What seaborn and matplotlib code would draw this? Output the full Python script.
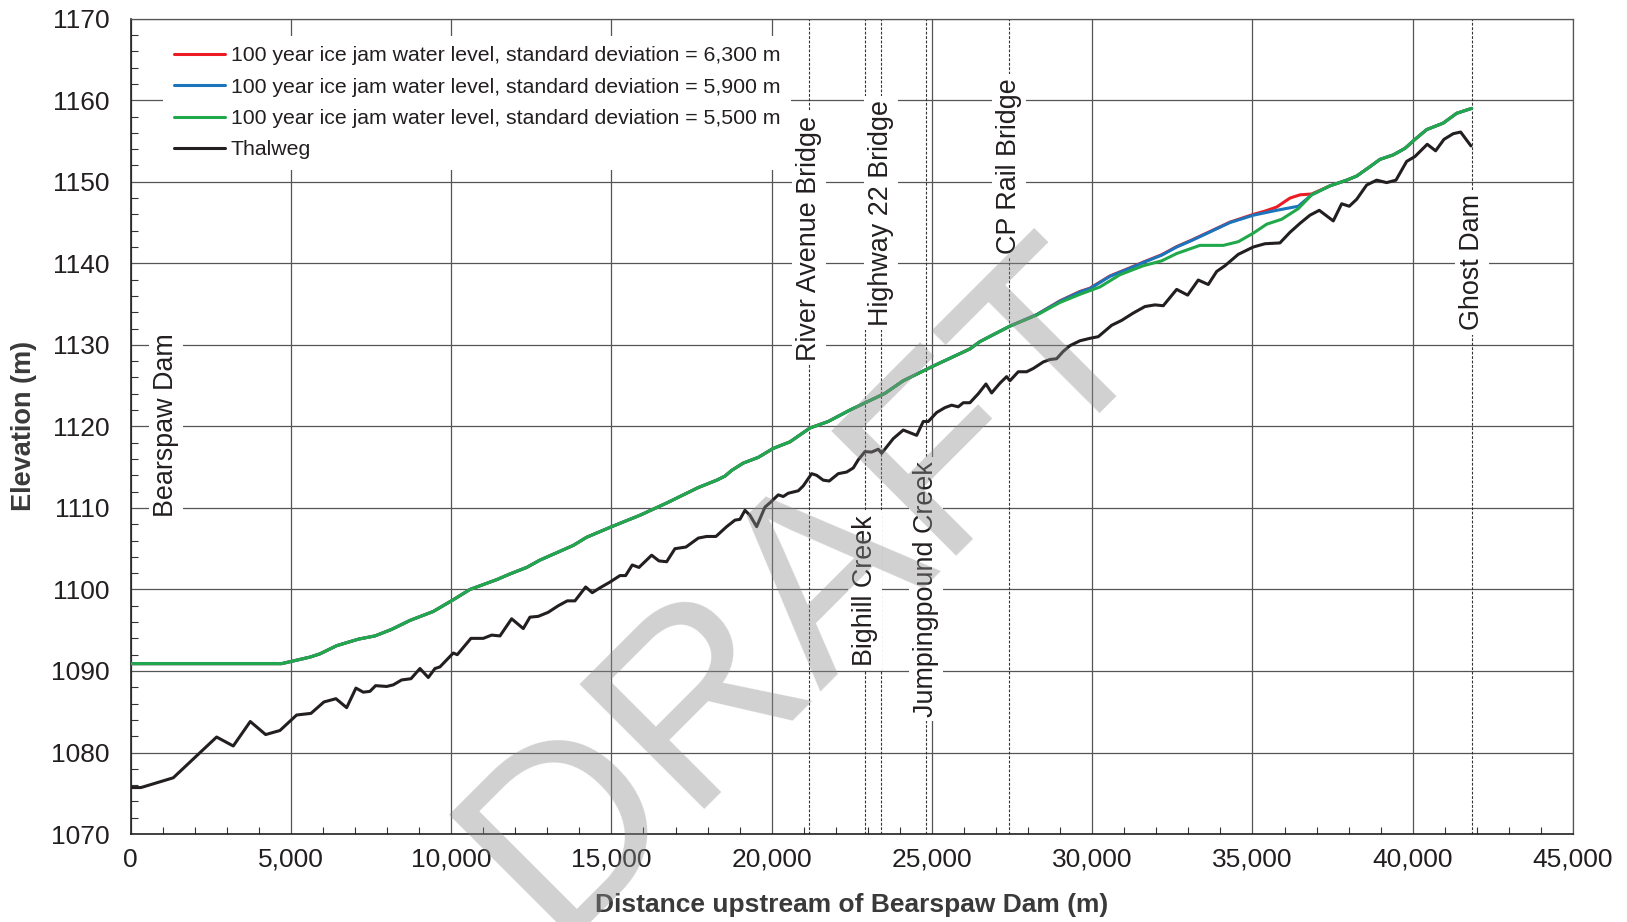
import matplotlib
matplotlib.use("Agg")
import matplotlib.pyplot as plt
import matplotlib.ticker as mticker
import seaborn as sns
import pandas as pd

# ---------------- data ----------------
thalweg_x = [0, 321, 1330, 2682, 3201, 3732, 4212, 4658, 5179, 5625, 6031, 6405, 6739, 7029, 7258,
             7466, 7643, 7987, 8195, 8455, 8746, 9026, 9286, 9494, 9650, 10066, 10190, 10617, 11002,
             11263, 11522, 11887, 12249, 12458, 12717, 13029, 13341, 13622, 13862, 14196, 14402,
             14642, 14954, 15266, 15443, 15650, 15859, 16255, 16483, 16723, 16982, 17325, 17710,
             17971, 18261, 18595, 18854, 19010, 19166, 19322, 19531, 19790, 19967, 20205, 20361,
             20517, 20829, 20985, 21247, 21403, 21609, 21796, 22077, 22339, 22545, 22701, 22909,
             23118, 23325, 23430, 23793, 24105, 24523, 24729, 24886, 25146, 25405, 25614, 25821,
             25977, 26185, 26445, 26685, 26862, 27121, 27330, 27434, 27693, 27955, 28161, 28473,
             28681, 28890, 29097, 29305, 29618, 29929, 30189, 30607, 30919, 31281, 31646, 31958,
             32217, 32635, 32978, 33309, 33621, 33883, 34141, 34557, 35026, 35389, 35857, 36170,
             36482, 36793, 37084, 37521, 37783, 38020, 38251, 38563, 38875, 39187, 39477, 39811,
             40070, 40453, 40714, 40974, 41264, 41495, 41817]
thalweg_y = [1075.7, 1075.7, 1076.9, 1081.9, 1080.8, 1083.8, 1082.2, 1082.7, 1084.6, 1084.8, 1086.2,
             1086.6, 1085.5, 1087.9, 1087.4, 1087.5, 1088.2, 1088.1, 1088.3, 1088.9, 1089.05, 1090.3,
             1089.2, 1090.3, 1090.5, 1092.2, 1092.0, 1094.0, 1094.0, 1094.4, 1094.3, 1096.4, 1095.2,
             1096.6, 1096.7, 1097.2, 1098.0, 1098.6, 1098.6, 1100.3, 1099.6, 1100.2, 1100.9, 1101.7,
             1101.7, 1103.0, 1102.7, 1104.2, 1103.5, 1103.4, 1105.0, 1105.2, 1106.3, 1106.5, 1106.5,
             1107.7, 1108.5, 1108.6, 1109.7, 1109.1, 1107.7, 1110.1, 1110.7, 1111.6, 1111.4, 1111.8,
             1112.1, 1112.7, 1114.2, 1114.0, 1113.4, 1113.3, 1114.2, 1114.4, 1114.9, 1115.9, 1116.9,
             1116.85, 1117.2, 1116.7, 1118.5, 1119.55, 1118.9, 1120.6, 1120.6, 1121.7, 1122.3, 1122.6,
             1122.4, 1122.9, 1122.9, 1124.0, 1125.2, 1124.1, 1125.3, 1126.1, 1125.6, 1126.7, 1126.7,
             1127.1, 1127.9, 1128.2, 1128.3, 1129.2, 1129.9, 1130.5, 1130.8, 1131.0, 1132.4, 1133.0,
             1133.9, 1134.7, 1134.9, 1134.8, 1136.8, 1136.1, 1137.95, 1137.4, 1139.0, 1139.7, 1141.1,
             1142.0, 1142.4, 1142.5, 1143.8, 1144.9, 1145.9, 1146.5, 1145.2, 1147.3, 1147.0, 1147.85,
             1149.6, 1150.2, 1149.9, 1150.2, 1152.5, 1153.1, 1154.6, 1153.8, 1155.2, 1155.9, 1156.1,
             1154.4]

green_x = [0, 4710, 5594, 5906, 6426, 7102, 7622, 8142, 8714, 9442, 10050, 10586, 11419, 11834,
           12355, 12770, 13809, 14227, 15007, 15890, 16723, 17710, 18283, 18542, 18751, 19114, 19582,
           20049, 20569, 21193, 21764, 22441, 23533, 24105, 25041, 26185, 26497, 27434, 28267, 28994,
           29618, 30241, 30865, 31592, 32167, 32635, 33361, 34089, 34557, 35026, 35444, 35910, 36428,
           36846, 37417, 37938, 38251, 38665, 38979, 39393, 39758, 40070, 40435, 40953, 41370, 41838]
green_y = [1090.9, 1090.9, 1091.7, 1092.1, 1093.1, 1093.9, 1094.3, 1095.1, 1096.2, 1097.3, 1098.7,
           1100.0, 1101.2, 1101.9, 1102.7, 1103.6, 1105.4, 1106.4, 1107.7, 1109.1, 1110.6, 1112.5,
           1113.4, 1113.9, 1114.6, 1115.5, 1116.2, 1117.3, 1118.1, 1119.8, 1120.6, 1122.0, 1124.05,
           1125.6, 1127.4, 1129.5, 1130.4, 1132.3, 1133.65, 1135.2, 1136.2, 1137.1, 1138.6, 1139.7,
           1140.3, 1141.2, 1142.2, 1142.2, 1142.65, 1143.7, 1144.8, 1145.4, 1146.7, 1148.4, 1149.5,
           1150.2, 1150.7, 1151.85, 1152.75, 1153.3, 1154.1, 1155.2, 1156.4, 1157.2, 1158.4, 1159.0]

blue_x = [0, 4710, 5594, 5906, 6426, 7102, 7622, 8142, 8714, 9442, 10050, 10586, 11419, 11834,
          12355, 12770, 13809, 14227, 15007, 15890, 16723, 17710, 18283, 18542, 18751, 19114, 19582,
          20049, 20569, 21193, 21764, 22441, 23533, 24105, 25041, 26185, 26497, 27434, 28267, 28994,
          29618, 29929, 30553, 31177, 31592, 32167, 32635, 33103, 33621, 34298, 35026, 35754, 36428,
          36846, 37417, 37938, 38251, 38665, 38979, 39393, 39758, 40070, 40435, 40953, 41370, 41838]
blue_y = [1090.9, 1090.9, 1091.7, 1092.1, 1093.1, 1093.9, 1094.3, 1095.1, 1096.2, 1097.3, 1098.7,
          1100.0, 1101.2, 1101.9, 1102.7, 1103.6, 1105.4, 1106.4, 1107.7, 1109.1, 1110.6, 1112.5,
          1113.4, 1113.9, 1114.6, 1115.5, 1116.2, 1117.3, 1118.1, 1119.8, 1120.6, 1122.0, 1124.05,
          1125.6, 1127.4, 1129.5, 1130.4, 1132.3, 1133.7, 1135.35, 1136.5, 1136.9, 1138.4, 1139.4,
          1140.1, 1141.0, 1142.0, 1142.8, 1143.75, 1145.0, 1145.9, 1146.5, 1147.0, 1148.4, 1149.5,
          1150.2, 1150.7, 1151.85, 1152.75, 1153.3, 1154.1, 1155.2, 1156.4, 1157.2, 1158.4, 1159.0]

red_x = [0, 4710, 5594, 5906, 6426, 7102, 7622, 8142, 8714, 9442, 10050, 10586, 11419, 11834,
         12355, 12770, 13809, 14227, 15007, 15890, 16723, 17710, 18283, 18542, 18751, 19114, 19582,
         20049, 20569, 21193, 21764, 22441, 23533, 24105, 25041, 26185, 26497, 27434, 28267, 28994,
         29618, 29929, 30553, 31177, 31592, 32167, 32635, 33103, 33621, 34298, 35026, 35389, 35754,
         36170, 36482, 36846, 37417, 37938, 38251, 38665, 38979, 39393, 39758, 40070, 40435, 40953,
         41370, 41838]
red_y = [1090.9, 1090.9, 1091.7, 1092.1, 1093.1, 1093.9, 1094.3, 1095.1, 1096.2, 1097.3, 1098.7,
         1100.0, 1101.2, 1101.9, 1102.7, 1103.6, 1105.4, 1106.4, 1107.7, 1109.1, 1110.6, 1112.5,
         1113.4, 1113.9, 1114.6, 1115.5, 1116.2, 1117.3, 1118.1, 1119.8, 1120.6, 1122.0, 1124.05,
         1125.6, 1127.4, 1129.5, 1130.4, 1132.3, 1133.7, 1135.4, 1136.55, 1136.95, 1138.45, 1139.45,
         1140.15, 1141.05, 1142.05, 1142.85, 1143.8, 1145.05, 1146.0, 1146.4, 1146.9, 1148.0, 1148.4,
         1148.5, 1149.5, 1150.2, 1150.7, 1151.85, 1152.75, 1153.3, 1154.1, 1155.2, 1156.4, 1157.2,
         1158.4, 1159.0]

series_labels = ["100 year ice jam water level, standard deviation = 6,300 m",
                 "100 year ice jam water level, standard deviation = 5,900 m",
                 "100 year ice jam water level, standard deviation = 5,500 m",
                 "Thalweg"]

landmark_names = ["Bearspaw Dam", "River Avenue Bridge", "Bighill Creek", "Highway 22 Bridge",
                  "Jumpingpound Creek", "CP Rail Bridge", "Ghost Dam"]
landmark_x = [0, 21172, 22909, 23409, 24803, 27392, 41838]
label_x = [1100, 21172, 22909, 23409, 24803, 27392, 41838]
label_y = [1120.2, 1143.1, 1099.9, 1146.2, 1100.05, 1151.9, 1140.1]

# ---------------- style ----------------
sns.set_theme(style="white")
plt.rcParams["font.family"] = ["Liberation Sans", "DejaVu Sans"]
TXT = "#231F20"

fig = plt.figure(figsize=(16.27, 9.22), dpi=100)
ax = fig.add_axes([0.0803, 0.0954, 0.8865, 0.8843])

colors = ["#ED1C24", "#1B75BC", "#21A84B", "#231F20"]
for xs, ys, c, lab in zip([red_x, blue_x, green_x, thalweg_x],
                          [red_y, blue_y, green_y, thalweg_y], colors, series_labels):
    df = pd.DataFrame({"x": xs, "y": ys})
    sns.lineplot(data=df, x="x", y="y", ax=ax, color=c, lw=2.2, label=lab,
                 sort=False, estimator=None, zorder=5)

# landmark dashed lines + labels
for nm, lx, tx, ty in zip(landmark_names, landmark_x, label_x, label_y):
    if lx > 0:
        ax.axvline(lx, color="#333333", lw=0.8, ls=(0, (2.5, 1.5)), zorder=2)
    ax.text(tx, ty, nm, rotation=90, ha="center", va="center", fontsize=19.4, color=TXT,
            zorder=3, bbox=dict(facecolor="white", edgecolor="none", pad=3))

ax.set_xlim(0, 45000)
ax.set_ylim(1070, 1170)
ax.xaxis.set_major_locator(mticker.MultipleLocator(5000))
ax.xaxis.set_minor_locator(mticker.MultipleLocator(1000))
ax.yaxis.set_major_locator(mticker.MultipleLocator(10))
ax.yaxis.set_minor_locator(mticker.MultipleLocator(2))
ax.xaxis.set_major_formatter(mticker.FuncFormatter(lambda v, p: f"{int(v):,}"))
ax.grid(True, which="major", color="#555555", lw=0.9, zorder=1)
ax.set_axisbelow(True)
ax.tick_params(axis="both", which="major", length=0, labelsize=19, labelcolor=TXT)
ax.tick_params(axis="y", which="major", pad=15)
ax.tick_params(axis="x", which="major", pad=10)
ax.tick_params(axis="both", which="minor", direction="in", length=5, width=0.8, color="#333333")
ax.tick_params(axis="x", which="minor", bottom=True)
ax.tick_params(axis="y", which="minor", left=True)

for s in ["top", "right"]:
    ax.spines[s].set_color("#555555")
    ax.spines[s].set_linewidth(0.9)
for s in ["left", "bottom"]:
    ax.spines[s].set_color("#222222")
    ax.spines[s].set_linewidth(1.2)

ax.set_xlabel("Distance upstream of Bearspaw Dam (m)", fontsize=19, fontweight="bold",
              color="#3a3a3a", labelpad=15)
ax.set_ylabel("Elevation (m)", fontsize=19.5, fontweight="bold", color="#3a3a3a", labelpad=10)

leg = ax.legend(loc="upper left", bbox_to_anchor=(0.015, 0.992), fontsize=15.3, frameon=True,
                facecolor="white", edgecolor="none", framealpha=1, handlelength=2.4,
                handletextpad=0.3, labelspacing=0.58, borderpad=0.5, fancybox=False)
for t in leg.get_texts():
    t.set_color(TXT)
leg.set_zorder(6)

# watermark
fig.text(0.4966, 0.362, "DRAFT", fontsize=185, rotation=45, ha="center", va="center",
         rotation_mode="anchor", color=(0.55, 0.55, 0.55), alpha=0.4, zorder=10,
         family=["Liberation Sans", "DejaVu Sans"])

fig.savefig("out.png", dpi=100)
